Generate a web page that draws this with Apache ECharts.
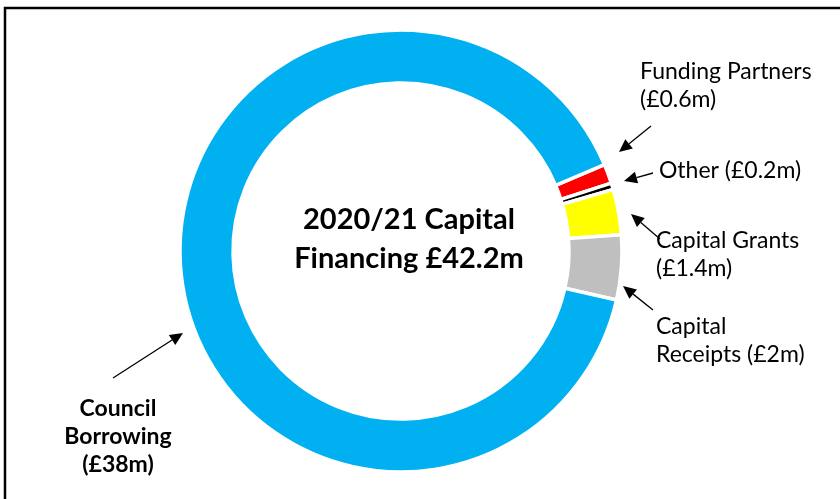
<!DOCTYPE html>
<html>
<head>
<meta charset="utf-8">
<script src="https://cdn.jsdelivr.net/npm/echarts@6/dist/echarts.min.js"></script>
<style>
  html, body { margin: 0; padding: 0; background: #fff; }
  #chart { width: 840px; height: 499px; }
</style>
</head>
<body>
<div id="chart"></div>
<script>
// 数据（顺时针，从 Funding Partners 开始）
var names = ['Funding Partners', 'Other', 'Capital Grants', 'Capital Receipts', 'Council Borrowing'];
var values = [0.6, 0.2, 1.4, 2, 38];
var labels = ['Funding Partners\n(£0.6m)', 'Other (£0.2m)', 'Capital Grants\n(£1.4m)', 'Capital\nReceipts (£2m)', 'Council\nBorrowing\n(£38m)'];
var colors = ['#FF0000', '#000000', '#FFFF00', '#BFBFBF', '#00B0F0'];
var centerTitle = '2020/21 Capital\nFinancing £42.2m';

// 标签位置（左上角）
var labelPos = [
  { x: 640, y: 58, align: 'left' },
  { x: 659, y: 157, align: 'left' },
  { x: 656, y: 227, align: 'left' },
  { x: 656, y: 313, align: 'left' },
  { x: 118, y: 395, align: 'center' }
];

// 箭头 [尾x, 尾y, 头x, 头y]
var arrows = [
  [651, 126, 619, 152],
  [653, 173, 624, 181],
  [660, 239, 631, 214],
  [653, 310, 623, 286],
  [113, 378, 183, 333]
];

function arrowGraphic(a) {
  var dx = a[2] - a[0], dy = a[3] - a[1];
  var len = Math.sqrt(dx * dx + dy * dy);
  var ux = dx / len, uy = dy / len;
  var hl = 13, hw = 6;
  var bx = a[2] - ux * hl, by = a[3] - uy * hl;
  return [
    { type: 'line', shape: { x1: a[0], y1: a[1], x2: bx, y2: by }, style: { stroke: '#000', lineWidth: 1.3 } },
    { type: 'polygon', shape: { points: [[a[2], a[3]], [bx - uy * hw, by + ux * hw], [bx + uy * hw, by - ux * hw]] }, style: { fill: '#000' } }
  ];
}

var graphics = [
  { type: 'rect', shape: { x: 5, y: 8, width: 900, height: 600 }, style: { fill: 'none', stroke: '#000', lineWidth: 2.5 } }
];
arrows.forEach(function (a) { graphics = graphics.concat(arrowGraphic(a)); });

var myChart = echarts.init(document.getElementById('chart'));
var option = {
  animation: false,
  title: {
    text: centerTitle,
    left: 404,
    top: 195,
    textAlign: 'center',
    textStyle: { fontFamily: 'Lato', fontWeight: 'bold', fontSize: 29, lineHeight: 39, color: '#000' }
  },
  graphic: graphics,
  series: [{
    type: 'pie',
    center: [401, 251],
    radius: [168, 221],
    startAngle: 23,
    clockwise: true,
    silent: true,
    itemStyle: { borderColor: '#fff', borderWidth: 3.5 },
    label: {
      show: true,
      position: 'outside',
      fontFamily: 'Lato',
      fontSize: 23,
      lineHeight: 28,
      color: '#000',
      width: 220,
      overflow: 'none',
      formatter: function (p) { return labels[p.dataIndex]; }
    },
    labelLine: { show: false },
    labelLayout: function (p) {
      var pos = labelPos[p.dataIndex];
      return { x: pos.x, y: pos.y, align: pos.align, verticalAlign: 'top', moveOverlap: false };
    },
    data: names.map(function (n, i) {
      var d = { name: n, value: values[i], itemStyle: { color: colors[i] } };
      if (i === 4) d.label = { fontWeight: 'bold' };
      return d;
    })
  }]
};
myChart.setOption(option);
</script>
</body>
</html>
